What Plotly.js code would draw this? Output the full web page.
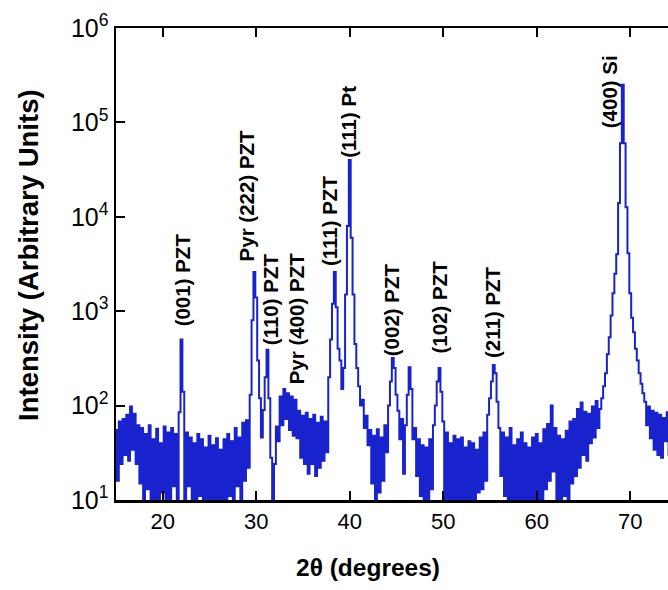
<!DOCTYPE html>
<html>
<head>
<meta charset="utf-8">
<script src="https://cdn.plot.ly/plotly-3.0.1.min.js"></script>
<style>
html, body { margin: 0; padding: 0; background: #ffffff; overflow: hidden; width: 668px; height: 590px; }
#chart { width: 700px; height: 590px; }
</style>
</head>
<body>
<div id="chart"></div>
<script>
// 2-theta grid (degrees)
const twoTheta = [
15.0,15.2,15.4,15.6,15.8,16.0,16.2,16.4,16.6,16.8,
17.0,17.2,17.4,17.6,17.8,18.0,18.2,18.4,18.6,18.8,
19.0,19.2,19.4,19.6,19.8,20.0,20.2,20.4,20.6,20.8,
21.0,21.2,21.4,21.6,21.8,22.0,22.2,22.4,22.6,22.8,
23.0,23.2,23.4,23.6,23.8,24.0,24.2,24.4,24.6,24.8,
25.0,25.2,25.4,25.6,25.8,26.0,26.2,26.4,26.6,26.8,
27.0,27.2,27.4,27.6,27.8,28.0,28.2,28.4,28.6,28.8,
29.0,29.2,29.4,29.6,29.8,30.0,30.2,30.4,30.6,30.8,
31.0,31.2,31.4,31.6,31.8,32.0,32.2,32.4,32.6,32.8,
33.0,33.2,33.4,33.6,33.8,34.0,34.2,34.4,34.6,34.8,
35.0,35.2,35.4,35.6,35.8,36.0,36.2,36.4,36.6,36.8,
37.0,37.2,37.4,37.6,37.8,38.0,38.2,38.4,38.6,38.8,
39.0,39.2,39.4,39.6,39.8,40.0,40.2,40.4,40.6,40.8,
41.0,41.2,41.4,41.6,41.8,42.0,42.2,42.4,42.6,42.8,
43.0,43.2,43.4,43.6,43.8,44.0,44.2,44.4,44.6,44.8,
45.0,45.2,45.4,45.6,45.8,46.0,46.2,46.4,46.6,46.8,
47.0,47.2,47.4,47.6,47.8,48.0,48.2,48.4,48.6,48.8,
49.0,49.2,49.4,49.6,49.8,50.0,50.2,50.4,50.6,50.8,
51.0,51.2,51.4,51.6,51.8,52.0,52.2,52.4,52.6,52.8,
53.0,53.2,53.4,53.6,53.8,54.0,54.2,54.4,54.6,54.8,
55.0,55.2,55.4,55.6,55.8,56.0,56.2,56.4,56.6,56.8,
57.0,57.2,57.4,57.6,57.8,58.0,58.2,58.4,58.6,58.8,
59.0,59.2,59.4,59.6,59.8,60.0,60.2,60.4,60.6,60.8,
61.0,61.2,61.4,61.6,61.8,62.0,62.2,62.4,62.6,62.8,
63.0,63.2,63.4,63.6,63.8,64.0,64.2,64.4,64.6,64.8,
65.0,65.2,65.4,65.6,65.8,66.0,66.2,66.4,66.6,66.8,
67.0,67.2,67.4,67.6,67.8,68.0,68.2,68.4,68.6,68.8,
69.0,69.2,69.4,69.6,69.8,70.0,70.2,70.4,70.6,70.8,
71.0,71.2,71.4,71.6,71.8,72.0,72.2,72.4,72.6,72.8,
73.0,73.2,73.4,73.6,73.8,74.0,74.2,74.4,74.6,74.8,
75.0
];

// Intensity (arbitrary units)
const intensity = [
55,16,68,24,72,30,80,26,98,34,
82,24,62,15,58,9,50,13,62,8,
44,10,57,8,40,12,60,8,52,9,
58,14,50,8,85,500,140,10,52,14,
46,9,40,8,50,11,44,8,36,10,
48,7,38,9,45,8,34,7,44,9,
50,11,42,8,58,14,46,10,66,16,
70,22,130,800,2600,1400,300,120,46,90,
200,390,120,28,8,24,60,42,125,62,
150,72,135,55,125,48,115,45,88,28,
78,24,84,19,72,24,80,18,66,22,
76,26,68,32,200,500,1200,2600,1100,400,
300,150,250,1500,8000,40000,6000,1500,450,250,
160,100,115,58,78,38,55,15,48,9,
56,12,46,16,62,32,100,180,320,250,
130,88,44,72,19,62,130,255,150,44,
58,18,44,11,38,9,36,8,44,13,
62,100,180,250,140,68,9,52,8,40,
10,48,7,44,8,46,9,36,10,42,
8,40,10,34,12,46,13,52,16,80,
120,180,270,220,110,58,18,52,11,46,
10,58,9,38,8,44,7,52,8,40,
9,36,8,46,10,50,9,40,8,56,
13,64,16,100,20,58,9,48,8,44,
11,54,10,68,15,72,18,92,22,108,
30,86,26,82,40,98,46,112,58,92,
120,160,220,350,530,900,1550,2500,4000,14000,
60000,250000,60000,12600,4100,1550,850,600,400,300,
220,170,135,110,62,98,45,88,34,84,
30,80,28,74,42,85,30,70,36,80,
40
];

// Peak labels
const peakLabels = ["(001) PZT","Pyr (222) PZT","(110) PZT","Pyr (400) PZT","(111) PZT","(111) Pt","(002) PZT","(102) PZT","(211) PZT","(400) Si"];
const labelAngle = [22.06, 29.0, 31.6, 34.25, 37.9, 39.9, 44.5, 49.65, 55.2, 67.8];
const labelBase = [650, 3240, 418, 162, 2870, 40000, 320, 343, 303, 83000];

const yTickVals = [10, 100, 1000, 10000, 100000, 1000000];
const yTickText = ["10<sup>1</sup>","10<sup>2</sup>","10<sup>3</sup>","10<sup>4</sup>","10<sup>5</sup>","10<sup>6</sup>"];
const xTickVals = [20, 30, 40, 50, 60, 70];

const FONT = "Liberation Sans, Arial, Helvetica, sans-serif";

const annotations = peakLabels.map((t, i) => ({
  text: "<b>" + t + "</b>",
  x: labelAngle[i], xref: "x",
  y: Math.log10(labelBase[i]), yref: "y",
  textangle: -90, showarrow: false,
  xanchor: "center", yanchor: "bottom",
  font: { family: FONT, size: 20.5, color: "#000000" }
}));

annotations.push({
  text: "<b>2θ (degrees)</b>", xref: "paper", yref: "paper",
  x: 0.45, y: -0.142, xanchor: "center", yanchor: "middle",
  showarrow: false, font: { family: FONT, size: 24.5, color: "#000000" }
});
annotations.push({
  text: "<b>Intensity (Arbitrary Units)</b>", xref: "paper", yref: "paper",
  x: -0.157, y: 0.519, xanchor: "center", yanchor: "middle", textangle: -90,
  showarrow: false, font: { family: FONT, size: 27.5, color: "#000000" }
});

const trace = {
  x: twoTheta, y: intensity, type: "scatter", mode: "lines",
  line: { color: "rgb(25,35,205)", width: 2, shape: "hvh" },
  hoverinfo: "x+y"
};

const layout = {
  width: 700, height: 590,
  margin: { l: 116, r: 23, t: 28, b: 90 },
  paper_bgcolor: "#ffffff", plot_bgcolor: "#ffffff",
  showlegend: false,
  font: { family: FONT, size: 20, color: "#000000" },
  xaxis: {
    range: [15, 75], tickvals: xTickVals, ticks: "inside", ticklen: 9, tickwidth: 2,
    tickcolor: "#000000", showline: true, linecolor: "#000000", linewidth: 2.5,
    mirror: "ticks", showgrid: false, zeroline: false,
    tickfont: { family: FONT, size: 22, color: "#000000" }
  },
  yaxis: {
    type: "log", range: [1, 6], tickvals: yTickVals, ticktext: yTickText,
    ticks: "inside", ticklen: 9, tickwidth: 2, tickcolor: "#000000",
    showline: true, linecolor: "#000000", linewidth: 2.5, mirror: "ticks",
    showgrid: false, zeroline: false,
    tickfont: { family: FONT, size: 25, color: "#000000" }
  },
  annotations: annotations
};

Plotly.newPlot("chart", [trace], layout, { displayModeBar: false, staticPlot: true });
</script>
</body>
</html>
